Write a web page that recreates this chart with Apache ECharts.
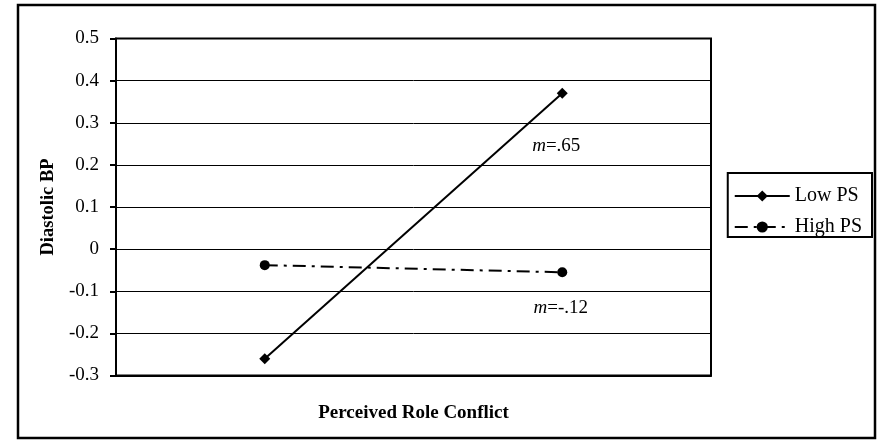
<!DOCTYPE html>
<html>
<head>
<meta charset="utf-8">
<script src="https://cdn.jsdelivr.net/npm/echarts@6/dist/echarts.min.js"></script>
<style>
html,body{margin:0;padding:0;background:#fff;}
#c{width:886px;height:440px;}
</style>
</head>
<body>
<div id="c"></div>
<script>
var categories = ['Low', 'High'];
var lowPS = [-0.26, 0.37];
var highPS = [-0.038, -0.055];
var yTicks = { min: -0.3, max: 0.5, interval: 0.1 };
var slopeLow = '.65';
var slopeHigh = '-.12';

var FONT = '"Liberation Serif", "Times New Roman", serif';
var chart = echarts.init(document.getElementById('c'), null, { renderer: 'canvas' });

function slopeLabel(txt, off) {
  return {
    show: true,
    position: 'bottom',
    offset: off,
    formatter: '{i|m}{n|=' + txt + '}',
    rich: {
      i: { fontFamily: FONT, fontStyle: 'italic', fontSize: 19, color: '#000' },
      n: { fontFamily: FONT, fontSize: 19, color: '#000' }
    }
  };
}

var option = {
  animation: false,
  backgroundColor: '#fff',
  graphic: [{
    type: 'rect',
    shape: { x: 18, y: 5, width: 857, height: 433 },
    style: { fill: 'none', stroke: '#000', lineWidth: 2.5 },
    z: -1
  }],
  grid: {
    left: 116, right: 175, top: 38.5, bottom: 64.5,
    show: true, borderColor: '#000', borderWidth: 2, backgroundColor: 'transparent'
  },
  legend: {
    orient: 'vertical',
    right: 14, top: 173,
    itemWidth: 55, itemHeight: 14, itemGap: 11,
    padding: [13, 10, 0, 6],
    borderColor: '#000', borderWidth: 2,
    backgroundColor: '#fff',
    textStyle: { fontFamily: FONT, fontSize: 20, lineHeight: 20, color: '#000' },
    data: ['Low PS', 'High PS']
  },
  xAxis: {
    type: 'category',
    data: categories,
    boundaryGap: true,
    axisLine: { show: true, onZero: false, lineStyle: { color: '#000', width: 2 } },
    axisTick: { show: false },
    axisLabel: { show: false },
    splitLine: { show: false },
    name: 'Perceived Role Conflict',
    nameLocation: 'middle',
    nameGap: 28,
    nameTextStyle: { fontFamily: FONT, fontWeight: 'bold', fontSize: 19, color: '#000' }
  },
  yAxis: {
    type: 'value',
    min: yTicks.min, max: yTicks.max, interval: yTicks.interval,
    axisLine: { show: true, onZero: false, lineStyle: { color: '#000', width: 2 } },
    axisTick: { show: true, length: 6, lineStyle: { color: '#000', width: 2 } },
    axisLabel: { fontFamily: FONT, fontSize: 19, color: '#000', margin: 17,
      formatter: function (v) { return String(Math.round(v * 10) / 10); } },
    splitLine: { show: true, lineStyle: { color: '#000', width: 1 } },
    name: 'Diastolic BP',
    nameLocation: 'middle',
    nameRotate: 90,
    nameGap: 53,
    nameTextStyle: { fontFamily: FONT, fontWeight: 'bold', fontSize: 18.5, color: '#000' }
  },
  series: [
    {
      name: 'Low PS',
      type: 'line',
      data: lowPS.map(function (v, i) {
        return i === 1 ? { value: v, label: slopeLabel(slopeLow, [-6, 33]) } : v;
      }),
      symbol: 'diamond',
      symbolSize: 11,
      itemStyle: { color: '#000' },
      lineStyle: { color: '#000', width: 2, type: 'solid' }
    },
    {
      name: 'High PS',
      type: 'line',
      data: highPS.map(function (v, i) {
        return i === 1 ? { value: v, label: slopeLabel(slopeHigh, [-1.5, 16]) } : v;
      }),
      symbol: 'circle',
      symbolSize: 10,
      itemStyle: { color: '#000' },
      lineStyle: { color: '#000', width: 2, type: [13, 6, 3, 6] }
    }
  ]
};
chart.setOption(option);
</script>
</body>
</html>
